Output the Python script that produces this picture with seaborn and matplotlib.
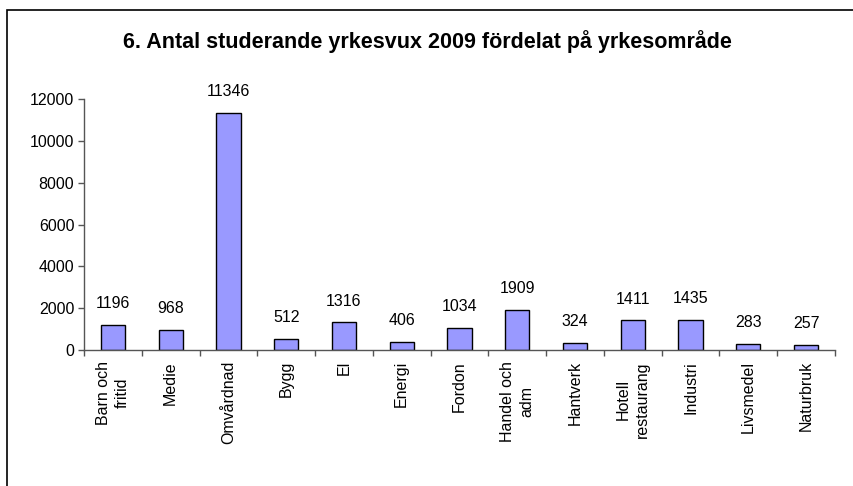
import numpy as np
import pandas as pd
import matplotlib
matplotlib.use('Agg')
import matplotlib.pyplot as plt
import matplotlib.ticker as mtick
from matplotlib.patches import Rectangle
import seaborn as sns

categories = ['Barn och\nfritid', 'Medie', 'Omvårdnad', 'Bygg', 'El', 'Energi', 'Fordon',
              'Handel och\nadm', 'Hantverk', 'Hotell\nrestaurang', 'Industri', 'Livsmedel',
              'Naturbruk']
students = [1196, 968, 11346, 512, 1316, 406, 1034, 1909, 324, 1411, 1435, 283, 257]
title = '6. Antal studerande yrkesvux 2009 fördelat på yrkesområde'

sns.set_style('white')
plt.rcParams['font.family'] = ['Liberation Sans', 'DejaVu Sans']
plt.rcParams['text.color'] = 'black'
plt.rcParams['xtick.color'] = 'black'
plt.rcParams['ytick.color'] = 'black'

df = pd.DataFrame({'omrade': categories, 'antal': students})

fig = plt.figure(figsize=(8.54, 4.86), dpi=100)
ax = fig.add_axes([84 / 854, 1 - 350 / 486, (835 - 84) / 854, (350 - 99) / 486])

sns.barplot(data=df, x='omrade', y='antal', color='#9999ff', saturation=1,
            edgecolor='black', linewidth=1, width=0.42, ax=ax)

# value labels above bars
for i, v in enumerate(students):
    ax.annotate(str(v), (i, v), xytext=(0, 10), textcoords='offset points',
                ha='center', va='bottom', fontsize=11.5, annotation_clip=False)

ax.set_ylim(0, 12000)
ax.set_xlim(-0.5, len(categories) - 0.5)
ax.yaxis.set_major_locator(mtick.MultipleLocator(2000))
ax.tick_params(axis='y', labelsize=11.5, length=4, width=1, color='#555555',
               labelcolor='black', left=True, pad=3)

# category labels rotated, tick marks between categories
ax.set_xticks(range(len(categories)))
ax.set_xticklabels(categories, rotation=90, fontsize=11.5, va='top', ha='center',
                   multialignment='center', linespacing=1.35)
ax.tick_params(axis='x', which='major', length=0, pad=8, labelcolor='black')
ax.set_xticks(np.arange(-0.5, len(categories)), minor=True)
ax.tick_params(axis='x', which='minor', length=4, width=1, color='#555555', bottom=True)

ax.set_xlabel('')
ax.set_ylabel('')
for side in ['top', 'right']:
    ax.spines[side].set_visible(False)
for side in ['left', 'bottom']:
    ax.spines[side].set_color('#555555')
    ax.spines[side].set_linewidth(1)

fig.text(0.5, 1 - 42 / 486, title, ha='center', va='center', fontsize=15.5,
         fontweight='bold', color='black')

# outer chart frame (right and bottom edges fall outside the picture)
fig.patches.append(Rectangle((7 / 854, -0.2), 2, 1.2 - 10 / 486, transform=fig.transFigure,
                             fill=False, edgecolor='black', linewidth=1.2))

fig.savefig('out.png', dpi=100)
